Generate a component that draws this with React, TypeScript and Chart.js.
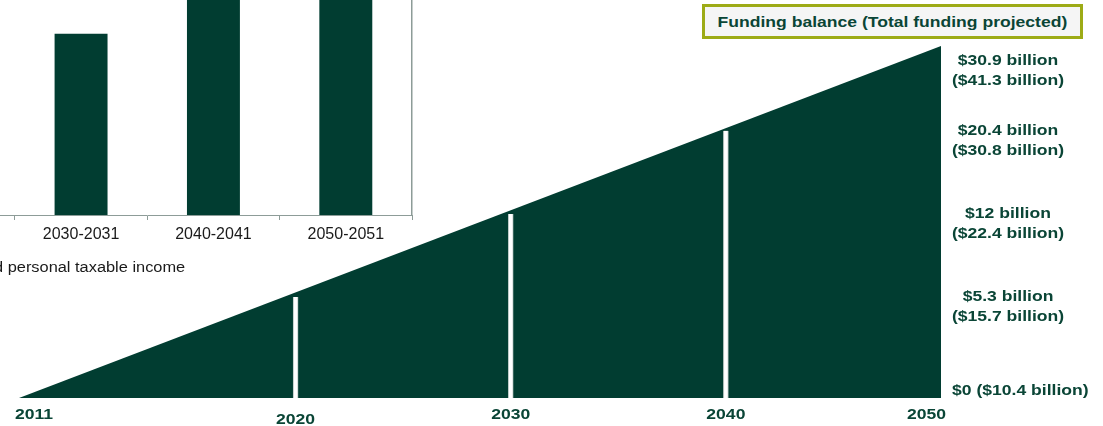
import React, { useEffect, useRef } from 'react';
import { Chart, registerables, LinearScale } from 'chart.js';

// ---------- data ----------
const milestoneYears = [2011, 2020, 2030, 2040, 2050];
const fundingBalance = ['$0', '$5.3 billion', '$12 billion', '$20.4 billion', '$30.9 billion'];
const totalFundingProjected = ['$10.4 billion', '$15.7 billion', '$22.4 billion', '$30.8 billion', '$41.3 billion'];

// schematic wedge (relative height, % of full height)
const wedgeYears = [2011, 2050];
const wedgeHeights = [0, 100];
// white milestone markers inside the wedge (relative height)
const markerYears = [2020, 2030, 2040];
const markerHeights = [28.7, 52.3, 75.9];

// inset bar chart (cropped in the picture)
const insetCategories = ['2020-2021', '2030-2031', '2040-2041', '2050-2051'];
const insetValues: (number | null)[] = [null, 61.4, 84, 97];
const insetCaption = 'd personal taxable income';

const titleText = 'Funding balance (Total funding projected)';

// ---------- style ----------
const GREEN = '#013d31';
const TEXT = '#0a4536';
const AXIS_GRAY = '#8d9c98';
const FONT = '"Liberation Sans", Arial, Helvetica, sans-serif';
const STRETCH = 1.17;

// schematic timeline: first span (2011-2020) takes 30% of width, the rest shares 70%
const BREAK_YEAR = 2020;
const BREAK_SHARE = 0.3;

class TimelineScale extends LinearScale {
  static id = 'timeline';
  static defaults = {};
  yearToDecimal(v: number) {
    const min = (this as any).min, max = (this as any).max;
    if (v <= BREAK_YEAR) return ((v - min) / (BREAK_YEAR - min)) * BREAK_SHARE;
    return BREAK_SHARE + ((v - BREAK_YEAR) / (max - BREAK_YEAR)) * (1 - BREAK_SHARE);
  }
  getPixelForValue(value: number) {
    return (this as any).getPixelForDecimal(this.yearToDecimal(value));
  }
  getValueForPixel(pixel: number) {
    const d = (this as any).getDecimalForPixel(pixel);
    const min = (this as any).min, max = (this as any).max;
    if (d <= BREAK_SHARE) return min + (d / BREAK_SHARE) * (BREAK_YEAR - min);
    return BREAK_YEAR + ((d - BREAK_SHARE) / (1 - BREAK_SHARE)) * (max - BREAK_YEAR);
  }
}

Chart.register(...registerables, TimelineScale as any);

function drawStretched(ctx: CanvasRenderingContext2D, text: string, x: number, y: number, align: CanvasTextAlign) {
  ctx.save();
  ctx.translate(x, y);
  ctx.scale(STRETCH, 1);
  ctx.textAlign = align;
  ctx.fillText(text, 0, 0);
  ctx.restore();
}

const yearLabelNudge = [0, 5, 0, 0, 0];

const milestoneTextPlugin = {
  id: 'milestoneText',
  afterDatasetsDraw(chart: any) {
    const { ctx, chartArea, scales } = chart;
    const xs = scales.x;
    const ys = scales.y;
    const n = milestoneYears.length;
    ctx.save();
    ctx.fillStyle = TEXT;
    ctx.font = `bold 15px ${FONT}`;
    ctx.textBaseline = 'middle';
    milestoneYears.forEach((yr, i) => {
      const px = xs.getPixelForValue(yr);
      let align: CanvasTextAlign = 'center';
      let ax = px;
      if (i === 0) { align = 'left'; ax = chartArea.left - 4; }
      else if (i === n - 1) { align = 'right'; ax = chartArea.right + 5; }
      drawStretched(ctx, String(yr), ax, chartArea.bottom + 17 + yearLabelNudge[i], align);

      // right-hand value labels
      const mi = markerYears.indexOf(yr);
      const h = mi >= 0 ? markerHeights[mi] : (yr === wedgeYears[1] ? wedgeHeights[1] : wedgeHeights[0]);
      if (i === 0) {
        drawStretched(ctx, `${fundingBalance[i]} (${totalFundingProjected[i]})`, chartArea.right + 11, chartArea.bottom - 7, 'left');
      } else {
        const y1 = Math.max(ys.getPixelForValue(h), chartArea.top + 15);
        const cx = chartArea.right + 67;
        drawStretched(ctx, fundingBalance[i], cx, y1, 'center');
        drawStretched(ctx, `(${totalFundingProjected[i]})`, cx, y1 + 20, 'center');
      }
    });
    ctx.restore();
  },
};

export default function App() {
  const mainRef = useRef<HTMLCanvasElement>(null);
  const insetRef = useRef<HTMLCanvasElement>(null);

  useEffect(() => {
    const main = new Chart(mainRef.current as HTMLCanvasElement, {
      type: 'line',
      data: {
        datasets: [
          {
            type: 'line',
            data: wedgeYears.map((x, i) => ({ x, y: wedgeHeights[i] })),
            fill: 'origin',
            backgroundColor: GREEN,
            borderColor: GREEN,
            borderWidth: 0,
            pointRadius: 0,
            tension: 0,
            order: 2,
          } as any,
          {
            type: 'bar',
            data: markerYears.map((x, i) => ({ x, y: markerHeights[i] })),
            backgroundColor: '#ffffff',
            borderColor: '#b9c6c2',
            borderWidth: { left: 1, right: 1, top: 0, bottom: 0 },
            borderSkipped: false,
            barThickness: 5,
            order: 1,
          } as any,
        ],
      },
      options: {
        animation: false,
        responsive: false,
        events: [],
        layout: { padding: { left: 19, top: 46, right: 162, bottom: 28 } },
        plugins: { legend: { display: false }, tooltip: { enabled: false } },
        scales: {
          x: { type: 'timeline' as any, min: 2011, max: 2050, display: false, offset: false },
          y: { type: 'linear', min: 0, max: 100, display: false },
        },
      } as any,
      plugins: [milestoneTextPlugin],
    });

    const inset = new Chart(insetRef.current as HTMLCanvasElement, {
      type: 'bar',
      data: {
        labels: insetCategories,
        datasets: [
          {
            data: insetValues,
            backgroundColor: GREEN,
            barPercentage: 0.4,
            categoryPercentage: 1,
          },
        ],
      },
      options: {
        animation: false,
        responsive: false,
        events: [],
        layout: { padding: { left: 7.5, right: 8, top: 0, bottom: 15 } },
        plugins: { legend: { display: false }, tooltip: { enabled: false } },
        scales: {
          x: {
            offset: true,
            grid: { display: true, drawOnChartArea: false, drawTicks: true, tickLength: 5, color: AXIS_GRAY, offset: true },
            border: { display: true, color: AXIS_GRAY, width: 1 },
            ticks: { color: '#1a1a1a', font: { family: FONT, size: 16 }, padding: 5, maxRotation: 0, autoSkip: false },
            afterFit: (s: any) => { s.height = 30; },
          },
          y: {
            position: 'right',
            min: 0,
            max: 100,
            ticks: { display: false },
            grid: { display: false, drawTicks: false },
            border: { display: true, color: AXIS_GRAY, width: 1.5 },
          },
        },
      } as any,
    });

    return () => {
      main.destroy();
      inset.destroy();
    };
  }, []);

  return (
    <div>
      <canvas
        ref={insetRef}
        width={545}
        height={340}
        style={{ position: 'absolute', left: -125, top: -80, width: 545, height: 340 }}
      />
      <div
        style={{
          position: 'absolute',
          left: -6,
          top: 258,
          fontFamily: FONT,
          fontSize: 14,
          lineHeight: '18px',
          color: '#1a1a1a',
          whiteSpace: 'nowrap',
          transform: `scaleX(${STRETCH})`,
          transformOrigin: 'left center',
        }}
      >
        {insetCaption}
      </div>
      <canvas
        ref={mainRef}
        width={1103}
        height={426}
        style={{ position: 'absolute', left: 0, top: 0, width: 1103, height: 426 }}
      />
      <div
        style={{
          position: 'absolute',
          left: 702,
          top: 4,
          width: 381,
          height: 35,
          boxSizing: 'border-box',
          border: '3px solid #9dab16',
          background: '#f5f5f5',
          display: 'flex',
          alignItems: 'center',
          justifyContent: 'center',
          fontFamily: FONT,
          fontWeight: 'bold',
          fontSize: 15,
          color: TEXT,
          whiteSpace: 'nowrap',
        }}
      >
        <span style={{ display: 'inline-block', transform: `scaleX(${STRETCH})` }}>{titleText}</span>
      </div>
    </div>
  );
}
